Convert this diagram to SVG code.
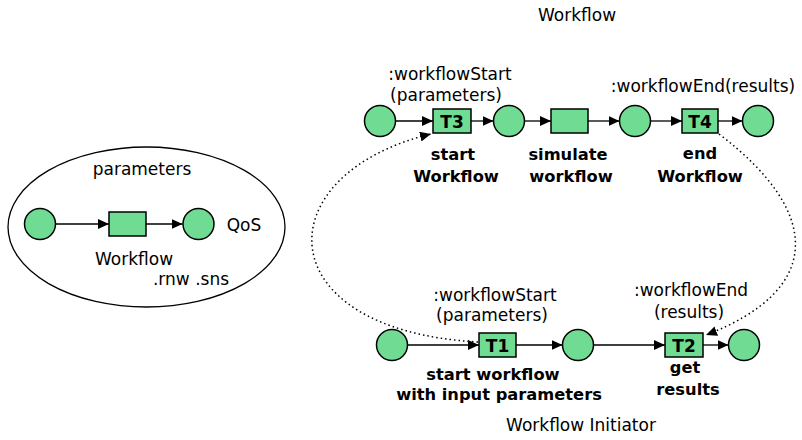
<svg xmlns="http://www.w3.org/2000/svg" width="802" height="440" viewBox="0 0 802 440">
<defs>
<marker id="ah" markerUnits="userSpaceOnUse" markerWidth="12" markerHeight="10" refX="11" refY="5" orient="auto">
<path d="M0,0 L11,5 L0,10 z" fill="#000"/>
</marker>
<style>
.pl{fill:#70DB93;stroke:#000;stroke-width:1.5}
.tr{fill:#70DB93;stroke:#000;stroke-width:1.5}
.arc{fill:none;stroke:#000;stroke-width:1.3;marker-end:url(#ah)}
.dot{fill:none;stroke:#000;stroke-width:1.5;stroke-dasharray:1.5 3}
.t{font-family:"DejaVu Sans",sans-serif;font-size:17px;fill:#000;text-anchor:middle}
.b{font-family:"DejaVu Sans",sans-serif;font-size:16.3px;font-weight:bold;fill:#000;text-anchor:middle}
.bt{font-family:"DejaVu Sans",sans-serif;font-size:17px;font-weight:bold;fill:#000;text-anchor:middle}
</style>
</defs>
<rect width="802" height="440" fill="#fff"/>

<g id="module">
<ellipse cx="146.5" cy="227" rx="138.5" ry="80" fill="none" stroke="#000" stroke-width="1.3"/>
<text class="t" x="142" y="175">parameters</text>
<text class="t" x="244" y="231">QoS</text>
<text class="t" x="134" y="265">Workflow</text>
<text class="t" x="191" y="285">.rnw .sns</text>
</g>

<g id="connectors">
<line class="arc" x1="56" y1="224" x2="109" y2="224"/>
<line class="arc" x1="146" y1="224" x2="182.5" y2="224"/>
<line class="arc" x1="395.5" y1="121" x2="433" y2="121"/>
<line class="arc" x1="471" y1="121" x2="493.5" y2="121"/>
<line class="arc" x1="524.5" y1="121" x2="551" y2="121"/>
<line class="arc" x1="588" y1="121" x2="619.5" y2="121"/>
<line class="arc" x1="650.5" y1="121" x2="682" y2="121"/>
<line class="arc" x1="718" y1="121" x2="742.5" y2="121"/>
<line class="arc" x1="407.5" y1="345" x2="479" y2="345"/>
<line class="arc" x1="516" y1="345" x2="562.5" y2="345"/>
<line class="arc" x1="593.5" y1="345" x2="665" y2="345"/>
<line class="arc" x1="703" y1="345" x2="728.5" y2="345"/>
<path class="dot" d="M478,342 C265,330 265,174 431,134" marker-end="url(#ah)"/>
<path class="dot" d="M719,134 C823,213 823,290 706,335" marker-end="url(#ah)"/>
</g>

<g id="p1"><circle class="pl" cx="40" cy="224" r="15.5"/></g>
<g id="tw"><rect class="tr" x="109" y="212" width="37" height="24"/></g>
<g id="p2"><circle class="pl" cx="198.5" cy="224" r="15.5"/></g>

<text class="t" x="577" y="21">Workflow</text>

<g id="wp1"><circle class="pl" cx="380" cy="121" r="15.5"/></g>
<g id="T3"><rect class="tr" x="433" y="109" width="38" height="24"/><text class="bt" x="452" y="127.5">T3</text>
<text class="t" x="450" y="80">:workflowStart</text>
<text class="t" x="446" y="101">(parameters)</text>
<text class="b" x="453" y="160">start</text>
<text class="b" x="456" y="182">Workflow</text></g>
<g id="wp2"><circle class="pl" cx="509" cy="121" r="15.5"/></g>
<g id="sim"><rect class="tr" x="551" y="109" width="37" height="24"/>
<text class="b" x="568" y="160">simulate</text>
<text class="b" x="571" y="182">workflow</text></g>
<g id="wp3"><circle class="pl" cx="635" cy="121" r="15.5"/></g>
<g id="T4"><rect class="tr" x="682" y="109" width="36" height="24"/><text class="bt" x="700" y="127.5">T4</text>
<text class="t" x="703" y="92">:workflowEnd(results)</text>
<text class="b" x="700" y="159">end</text>
<text class="b" x="700" y="182">Workflow</text></g>
<g id="wp4"><circle class="pl" cx="758" cy="121" r="15.5"/></g>

<g id="ip1"><circle class="pl" cx="392" cy="345" r="15.5"/></g>
<g id="T1"><rect class="tr" x="479" y="333" width="37" height="24"/><text class="bt" x="497.5" y="351.5">T1</text>
<text class="t" x="495" y="301">:workflowStart</text>
<text class="t" x="492" y="321">(parameters)</text>
<text class="b" x="493" y="380">start workflow</text>
<text class="b" x="499" y="400">with input parameters</text></g>
<g id="ip2"><circle class="pl" cx="578" cy="345" r="15.5"/></g>
<g id="T2"><rect class="tr" x="665" y="333" width="38" height="24"/><text class="bt" x="684" y="351.5">T2</text>
<text class="t" x="691" y="296">:workflowEnd</text>
<text class="t" x="689" y="318">(results)</text>
<text class="b" x="685" y="373">get</text>
<text class="b" x="688" y="395">results</text></g>
<g id="ip3"><circle class="pl" cx="744" cy="345" r="15.5"/></g>

<text class="t" x="581" y="431">Workflow Initiator</text>
</svg>
